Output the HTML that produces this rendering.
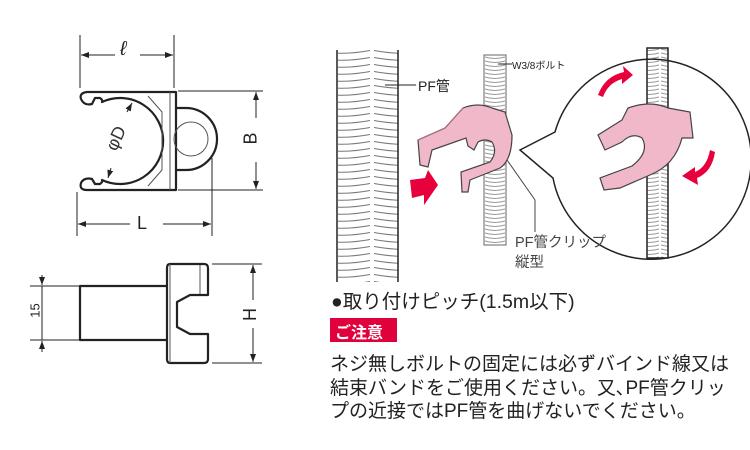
<!DOCTYPE html>
<html><head><meta charset="utf-8"><style>
body{margin:0;width:750px;height:450px;background:#fff;overflow:hidden;font-family:"Liberation Sans","Noto Sans CJK JP",sans-serif}
svg{position:absolute;left:0;top:0}
.t{position:absolute;white-space:nowrap;color:#222}
</style></head><body>
<svg width="750" height="450" viewBox="0 0 750 450">
<defs>
<marker id="a" markerWidth="8" markerHeight="6" refX="8" refY="3" orient="auto-start-reverse"><path d="M0,0 L8,3 L0,6z" fill="#222"/></marker>
<pattern id="cor" width="62" height="7" patternUnits="userSpaceOnUse"><path d="M2,1.5 Q31,7 60,1.5" fill="none" stroke="#777" stroke-width="1.1"/></pattern>
<pattern id="bolt" width="22" height="4" patternUnits="userSpaceOnUse"><path d="M1,1 Q11,4 21,1" fill="none" stroke="#999" stroke-width="1"/></pattern>
</defs>
<g stroke="#222" stroke-width="1" fill="none">
<line x1="80" y1="35" x2="80" y2="88"/><line x1="174" y1="35" x2="174" y2="88"/>
<line x1="115" y1="55" x2="81" y2="55" marker-end="url(#a)"/>
<line x1="140" y1="55" x2="173" y2="55" marker-end="url(#a)"/>
<line x1="178" y1="91" x2="263" y2="91"/><line x1="178" y1="190" x2="263" y2="190"/>
<line x1="256" y1="118" x2="256" y2="92" marker-end="url(#a)"/><line x1="256" y1="162" x2="256" y2="189" marker-end="url(#a)"/>
<line x1="77" y1="192" x2="77" y2="236"/><line x1="212" y1="158" x2="212" y2="236"/>
<line x1="130" y1="224" x2="78" y2="224" marker-end="url(#a)"/><line x1="163" y1="224" x2="211" y2="224" marker-end="url(#a)"/>
<line x1="212" y1="264" x2="262" y2="264"/><line x1="212" y1="363" x2="262" y2="363"/>
<line x1="253" y1="300" x2="253" y2="265" marker-end="url(#a)"/><line x1="253" y1="328" x2="253" y2="362" marker-end="url(#a)"/>
<line x1="30" y1="286" x2="80" y2="286"/><line x1="30" y1="340" x2="80" y2="340"/>
<line x1="42" y1="275" x2="42" y2="285" marker-end="url(#a)"/><line x1="42" y1="352" x2="42" y2="341" marker-end="url(#a)"/>
<line x1="42" y1="286" x2="42" y2="340"/>
</g>
<g stroke="#222" stroke-width="2.2" fill="none" stroke-linejoin="round">
<path d="M176,92 L87,92 Q79,93 81,99 Q84,106 92,104 L95,98 L100,98 Q103,100 102,102 A43,43 0 1 1 102,180 Q103,182 100,184 L95,184 L92,179 Q84,177 81,183 Q79,190 87,190 L176,190 Z"/>
<path d="M176,108 L186,108 A27,27 0 0 1 186,170 L176,170"/>
</g>
<g stroke="#555" stroke-width="1" fill="none">
<path d="M170,92 L170,190"/><path d="M148,96 L162,112 L162,170 L148,186"/>
<circle cx="191" cy="139" r="17"/>
</g>
<g stroke="#222" stroke-width="1" fill="none">
<line x1="127" y1="112" x2="132" y2="103" marker-end="url(#a)"/>
<line x1="111" y1="168" x2="108" y2="178" marker-end="url(#a)"/>
</g>
<g stroke="#222" stroke-width="2.2" fill="none" stroke-linejoin="round">
<path d="M167,286 L80,286 L80,340 L167,340"/>
<path d="M170,264 L204,264 Q208,264 208,268 L208,295 L190,295 L177,302 L177,327 L190,334 L208,334 L208,359 Q208,363 204,363 L170,363 Q167,363 167,359 L167,268 Q167,264 170,264 Z"/>
</g>
<line x1="200" y1="265" x2="200" y2="294" stroke="#555"/>
<line x1="170" y1="264" x2="170" y2="363" stroke="#555"/>
<rect x="338" y="50" width="60" height="232" fill="url(#cor)"/>
<line x1="337" y1="50" x2="337" y2="282" stroke="#222" stroke-width="1.5"/>
<line x1="398" y1="50" x2="398" y2="282" stroke="#222" stroke-width="1.5"/>
<line x1="385" y1="85" x2="416" y2="85" stroke="#222"/>
<rect x="484" y="55" width="22" height="190" fill="url(#bolt)" stroke="#666"/>
<line x1="498" y1="64" x2="512" y2="64" stroke="#222"/>
<path d="M463,108 Q478,102 492,108 L505,112 L512,135 Q512,160 500,168 L470,180 L468,192 L462,192 L461,172 L490,162 Q498,152 492,142 Q485,138 478,142 L474,150 L468,146 L466,138 L432,150 L428,167 L420,165 L418,140 L445,128 Z" fill="#f0b8c8" stroke="#444" stroke-width="1.2"/>
<path d="M418,140 L445,128 L463,108" fill="none" stroke="#b07080" stroke-width="1"/>
<path d="M410,180 L425,178 L428,170 L438,185 L424,205 L424,195 L412,198 Z" fill="#e8003c"/>
<line x1="507" y1="160" x2="535" y2="200" stroke="#444"/><line x1="535" y1="200" x2="535" y2="232" stroke="#444"/>
<path d="M555,132 A100,100 0 1 1 553,178 L520,150 Z" fill="#fff" stroke="#222" stroke-width="1.5"/>
<rect x="647" y="48" width="21" height="210" fill="url(#bolt)" stroke="#222" stroke-width="1.5"/>
<path d="M628,108 Q650,100 668,108 L690,112 L693,138 L682,138 Q675,165 650,175 L620,188 L604,190 L600,178 L632,166 Q650,152 642,138 Q632,132 622,142 L605,150 L598,135 L622,120 Z" fill="#f0b8c8" stroke="#444" stroke-width="1.2"/>
<path d="M598,95 Q605,76 624,72 L623,66 L633,75 L622,84 L622,79 Q608,83 603,97 Z" fill="#e8003c"/>
<path d="M715,152 Q712,172 697,178 L698,185 L682,176 L695,167 L695,172 Q707,167 710,150 Z" fill="#e8003c"/>
<rect x="330" y="318" width="67" height="24" fill="#e0003c"/>
</svg>
<div class="t" style="left:120px;top:38px;font-size:20px;font-style:italic">ℓ</div>
<div class="t" style="left:245px;top:128px;font-size:18px;transform:rotate(-90deg)">B</div>
<div class="t" style="left:137px;top:213px;font-size:18px">L</div>
<div class="t" style="left:244px;top:304px;font-size:18px;transform:rotate(-90deg)">H</div>
<div class="t" style="left:28px;top:303px;font-size:13px;transform:rotate(-90deg)">15</div>
<div class="t" style="left:104px;top:128px;font-size:18px;transform:rotate(-65deg);color:#333">φD</div>
<div class="t" style="left:418px;top:76px;font-size:14px">PF管</div>
<div class="t" style="left:512px;top:57px;font-size:10px">W3/8ボルト</div>
<div class="t" style="left:515px;top:231px;font-size:14.5px;color:#444">PF管クリップ</div>
<div class="t" style="left:515px;top:251px;font-size:14.5px;color:#444">縦型</div>
<div class="t" style="left:331px;top:285px;font-size:19.5px">●取り付けピッチ(1.5m以下)</div>
<div class="t" style="left:335px;top:319px;font-size:16px;color:#fff;font-weight:bold">ご注意</div>
<div class="t" style="left:330px;top:353px;font-size:19px;line-height:23.5px">ネジ無しボルトの固定には必ずバインド線又は<br>結束バンドをご使用ください。又､PF管クリッ<br>プの近接ではPF管を曲げないでください。</div>
</body></html>
